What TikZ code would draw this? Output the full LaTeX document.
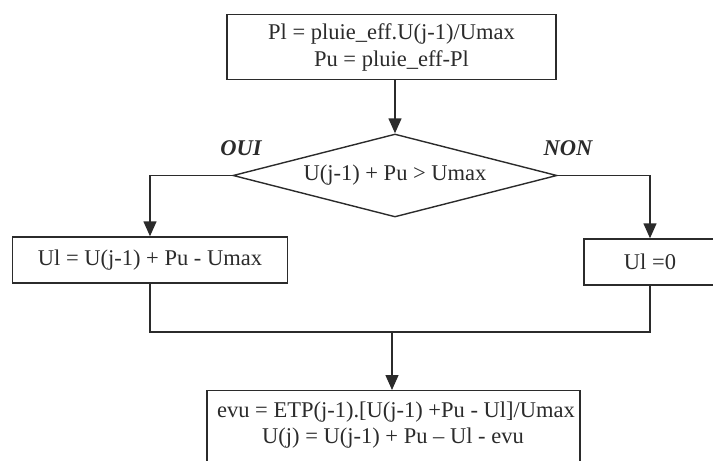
\documentclass[tikz,border=0pt]{standalone}
\usepackage{fontspec}
\setmainfont{Liberation Serif}
\usetikzlibrary{shapes.geometric,arrows.meta}
\definecolor{ink}{HTML}{2B2B2B}
\begin{document}
\begin{tikzpicture}[x=1pt,y=-1pt,
  every node/.style={font=\fontsize{22.5}{27}\selectfont, text=ink},
  box/.style={draw=ink, line width=1.4pt, rectangle, inner sep=0pt, align=center},
  cond/.style={draw=ink, line width=1.4pt, diamond, shape aspect=3.9, inner sep=0pt, minimum width=324pt, minimum height=83pt},
  lbl/.style={font=\fontsize{22.5}{27}\selectfont\bfseries\itshape},
  wire/.style={draw=ink, line width=1.4pt},
  arr/.style={wire, -{Triangle[length=15pt,width=13pt]}}]
\useasboundingbox (0,0) rectangle (713,461);
\clip (0,0) rectangle (713,461);
\node[box, minimum width=329pt, minimum height=65pt] (top) at (391.5,47)
  {Pl = pluie\_eff.U(j-1)/Umax\\Pu = pluie\_eff-Pl};
\node[cond] (dia) at (395,175.5) {U(j-1) + Pu > Umax};
\node[box, minimum width=275pt, minimum height=46pt] (left) at (150,260) {Ul = U(j-1) + Pu - Umax};
\node[box, minimum width=132pt, minimum height=46pt] (right) at (650,262) {Ul =0};
\node[box, minimum width=373pt, minimum height=100pt, anchor=north] (bot) at (393.5,390) {};
\node (botA) at (396,412) {evu = ETP(j-1).[U(j-1) +Pu - Ul]/Umax};
\node (botB) at (393,438) {U(j) = U(j-1) + Pu -- Ul - evu};
\node[lbl] (oui) at (241,148) {OUI};
\node[lbl] (non) at (568,148) {NON};
\coordinate (join) at (392,332);
\draw[arr] (top.south -| dia.north) -- (dia.north);
\draw[arr] (dia.west) -| (left.north);
\draw[arr] (dia.east) -| (right.north);
\draw[wire] (left.south) |- (join) -| (right.south);
\draw[arr] (join) -- (join |- bot.north);
\end{tikzpicture}
\end{document}
